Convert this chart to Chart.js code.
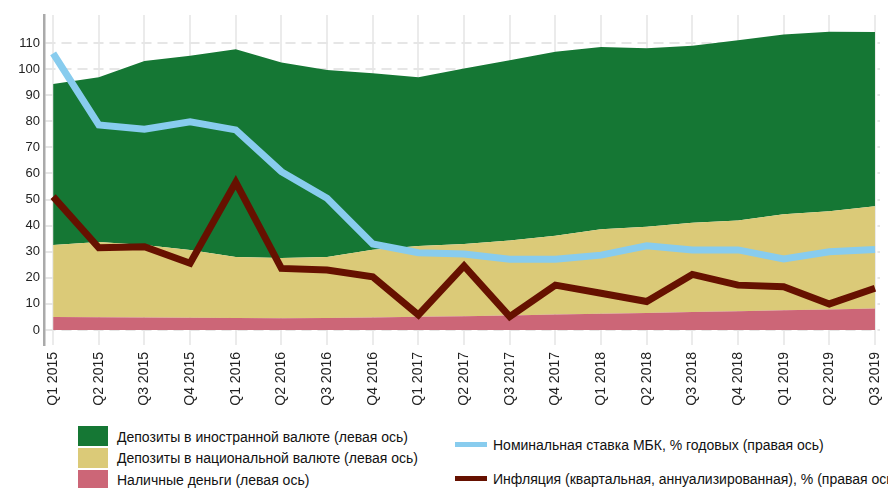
<!DOCTYPE html>
<html>
<head>
<meta charset="utf-8">
<script src="https://cdn.jsdelivr.net/npm/chart.js@4/dist/chart.umd.min.js"></script>
<style>
  body { margin: 0; width: 888px; height: 488px; overflow: hidden; background: #fff; position: relative; }
  #chartBox { position: absolute; left: 0; top: 0; width: 888px; height: 420px; }
  .legend-item { position: absolute; font-family: "Liberation Sans", Arial, sans-serif; font-size: 14px; color: #111; white-space: nowrap; line-height: 18px; }
  .swatch { position: absolute; }
</style>
</head>
<body>
<div id="chartBox"><canvas id="depositsChart" width="888" height="420"></canvas></div>

<div class="swatch" style="left:78px;top:426px;width:30px;height:20px;background:#157734"></div>
<div class="legend-item" style="left:117px;top:428px">Депозиты в иностранной валюте (левая ось)</div>
<div class="swatch" style="left:78px;top:448px;width:30px;height:20px;background:#dbca78"></div>
<div class="legend-item" style="left:117px;top:449px">Депозиты в национальной валюте (левая ось)</div>
<div class="swatch" style="left:78px;top:470px;width:30px;height:20px;background:#cc6677"></div>
<div class="legend-item" style="left:117px;top:471px">Наличные деньги (левая ось)</div>
<div class="swatch" style="left:455px;top:442px;width:32px;height:5px;background:#88ccee"></div>
<div class="legend-item" style="left:493px;top:436px">Номинальная ставка МБК, % годовых (правая ось)</div>
<div class="swatch" style="left:455px;top:476px;width:32px;height:5px;background:#661100"></div>
<div class="legend-item" style="left:493px;top:470px">Инфляция (квартальная, аннуализированная), % (правая ось)</div>

<script>
// quarters on the x axis
const quarters = [
  'Q1 2015', 'Q2 2015', 'Q3 2015', 'Q4 2015',
  'Q1 2016', 'Q2 2016', 'Q3 2016', 'Q4 2016',
  'Q1 2017', 'Q2 2017', 'Q3 2017', 'Q4 2017',
  'Q1 2018', 'Q2 2018', 'Q3 2018', 'Q4 2018',
  'Q1 2019', 'Q2 2019', 'Q3 2019'
];

// stacked areas (left axis)
const cash = [5.0, 4.9, 4.8, 4.7, 4.6, 4.5, 4.6, 4.8, 5.1, 5.3, 5.6, 5.9, 6.2, 6.5, 6.9, 7.2, 7.6, 7.9, 8.2];
const nationalDeposits = [27.6, 28.8, 27.8, 26.0, 23.4, 23.1, 23.4, 26.0, 27.1, 27.7, 28.7, 30.2, 32.4, 33.1, 34.2, 34.8, 36.8, 37.6, 39.2];
const foreignDeposits = [61.7, 63.2, 70.5, 74.4, 79.6, 74.9, 71.7, 67.6, 64.7, 67.2, 69.1, 70.6, 69.9, 68.4, 67.9, 69.1, 68.9, 68.8, 66.8];

// lines (right axis)
const interbankRate = [106, 78.6, 77, 79.8, 76.7, 60.7, 50.5, 33, 29.6, 29.1, 27.1, 27.1, 28.7, 32.3, 30.7, 30.7, 27.2, 30, 30.9];
const inflation = [51.1, 31.5, 31.9, 25.6, 56.6, 23.6, 23, 20.4, 5.8, 24.6, 5.1, 17.2, 14.1, 10.9, 21.3, 17.2, 16.6, 10, 16];

const yTicks = [0, 10, 20, 30, 40, 50, 60, 70, 80, 90, 100, 110];

const toPoints = (values) => values.map((v, i) => ({ x: i, y: v }));

const axisFont = { family: '"Liberation Sans", Arial, sans-serif', size: 13 };

const lineDataset = (label, values, color) => ({
  label,
  data: toPoints(values),
  yAxisID: 'y1',
  borderColor: color,
  borderWidth: 7,
  borderJoinStyle: 'miter',
  borderCapStyle: 'butt',
  pointRadius: 0,
  fill: false,
  tension: 0
});

const areaDataset = (label, values, color, fill) => ({
  label,
  data: toPoints(values),
  yAxisID: 'y',
  backgroundColor: color,
  borderWidth: 0,
  pointRadius: 0,
  fill,
  tension: 0
});

const chart = new Chart(document.getElementById('depositsChart'), {
  type: 'line',
  data: {
    datasets: [
      lineDataset('Инфляция (квартальная, аннуализированная), % (правая ось)', inflation, '#661100'),
      lineDataset('Номинальная ставка МБК, % годовых (правая ось)', interbankRate, '#88ccee'),
      areaDataset('Наличные деньги (левая ось)', cash, '#cc6677', 'origin'),
      areaDataset('Депозиты в национальной валюте (левая ось)', nationalDeposits, '#dbca78', '-1'),
      areaDataset('Депозиты в иностранной валюте (левая ось)', foreignDeposits, '#157734', '-1')
    ]
  },
  options: {
    responsive: false,
    animation: false,
    layout: { padding: { top: 15, right: 8, left: 0, bottom: 0 } },
    plugins: { legend: { display: false }, tooltip: { enabled: false } },
    scales: {
      x: {
        type: 'linear',
        min: -0.2,
        max: 18.11,
        afterFit: (s) => { s.height = 75; s.paddingLeft = 0; s.paddingRight = 0; },
        ticks: {
          stepSize: 1,
          includeBounds: false,
          autoSkip: false,
          minRotation: 90,
          maxRotation: 90,
          padding: 7,
          color: '#222',
          font: { family: '"Liberation Sans", Arial, sans-serif', size: 14 },
          callback: (v) => quarters[v] ?? ''
        },
        grid: { color: '#ebebeb', lineWidth: 2, drawTicks: false },
        border: { display: false }
      },
      y: {
        stacked: true,
        min: -5.75,
        max: 120.75,
        afterFit: (s) => { s.width = 44; s.paddingTop = 0; s.paddingBottom = 0; },
        afterBuildTicks: (s) => { s.ticks = yTicks.concat([120]).map(v => ({ value: v })); },
        ticks: {
          padding: 4,
          color: '#222',
          font: axisFont,
          callback: (v) => yTicks.includes(v) ? v : ''
        },
        grid: {
          color: (ctx) => ctx.tick && ctx.tick.value > 110 ? 'rgba(0,0,0,0)' : '#e6e6e6',
          lineWidth: 2,
          drawTicks: false
        },
        border: { color: '#aaaaaa', width: 2.5, dash: [10, 6] }
      },
      y1: {
        display: false,
        stacked: false,
        min: -5.75,
        max: 120.75
      }
    }
  }
});
</script>
</body>
</html>
